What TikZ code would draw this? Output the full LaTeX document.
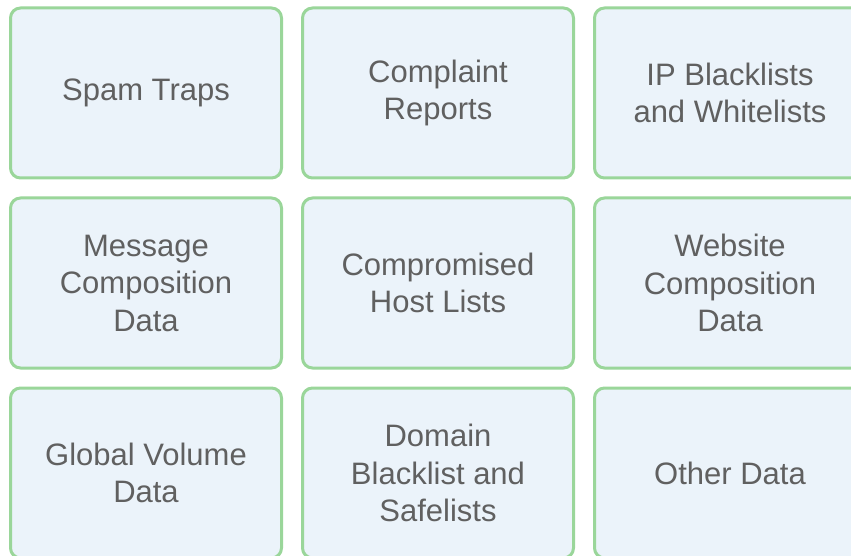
\documentclass[tikz,border=0pt]{standalone}
\usepackage{fontspec}
\setmainfont{Liberation Sans}
\usetikzlibrary{positioning}

\definecolor{cellfill}{HTML}{EBF3FA}
\definecolor{celledge}{HTML}{9AD69A}
\definecolor{celltext}{HTML}{606060}

\begin{document}
\begin{tikzpicture}[
  x=1pt, y=-1pt,
  node distance=20pt and 21pt,
  every node/.style={font=\fontsize{31}{37.5}\selectfont},
  cell/.style={draw=celledge, fill=cellfill, text=celltext, line width=3pt,
    rounded corners=10pt, minimum width=271pt, minimum height=170pt,
    outer sep=0pt, align=center}
]
\clip (0,0) rectangle (851,556);

% Top row
\node [cell] (spam) at (146,93) {Spam Traps};
\node [cell, right=of spam] (complaint) {Complaint\\Reports};
\node [cell, right=of complaint] (iplists) {IP Blacklists\\and Whitelists};

% Middle row
\node [cell, below=of spam] (msgcomp) {Message\\Composition\\Data};
\node [cell, right=of msgcomp] (hosts) {Compromised\\Host Lists};
\node [cell, right=of hosts] (webcomp) {Website\\Composition\\Data};

% Bottom row
\node [cell, below=of msgcomp] (volume) {Global Volume\\Data};
\node [cell, right=of volume] (domain) {Domain\\Blacklist and\\Safelists};
\node [cell, right=of domain] (other) {Other Data};
\end{tikzpicture}
\end{document}
